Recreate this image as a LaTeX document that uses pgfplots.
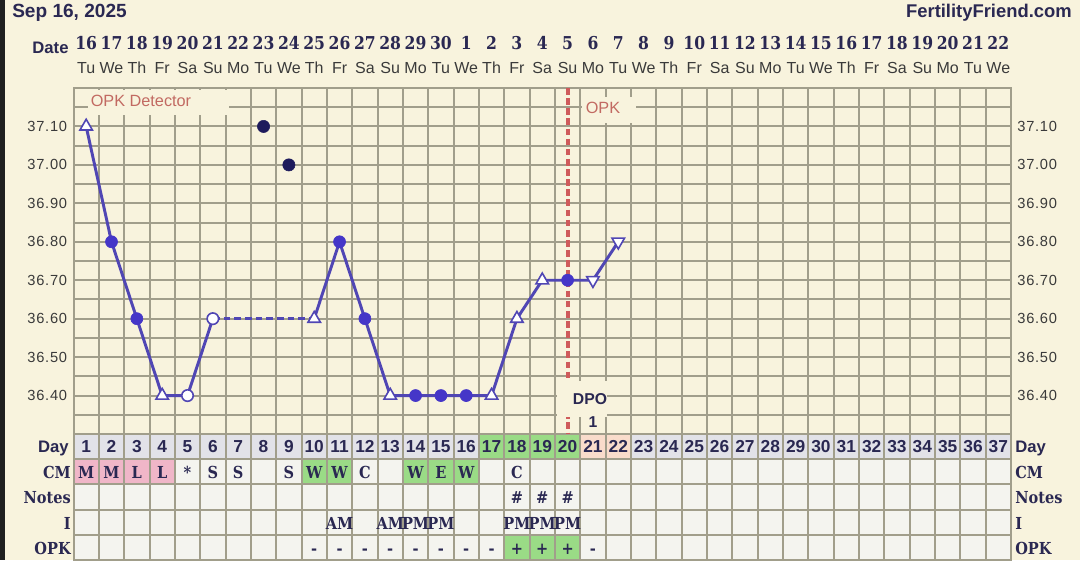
\documentclass[border=0pt]{standalone}
\usepackage{pgfplots}
\pgfplotsset{compat=1.18}
\usepackage{fontspec}
\setmainfont{Liberation Sans}
\newfontfamily\slab[FakeStretch=0.88]{DejaVu Serif}
\newfontfamily\tickf[LetterSpace=5]{Liberation Sans}
\definecolor{bg}{HTML}{F8F3DD}
\definecolor{gridc}{HTML}{A19E8B}
\definecolor{tickc}{HTML}{3A3A3A}
\definecolor{navy}{HTML}{2A2852}
\definecolor{linec}{HTML}{5046B4}
\definecolor{markc}{HTML}{4536C8}
\definecolor{discard}{HTML}{1E1B5C}
\definecolor{redc}{HTML}{CF5B5B}
\definecolor{labred}{HTML}{C26A62}
\definecolor{cellbg}{HTML}{F4F4EF}
\definecolor{dayg}{HTML}{E2E2E8}
\definecolor{pinkc}{HTML}{F0B6C8}
\definecolor{greenc}{HTML}{9ADB86}
\definecolor{peach}{HTML}{F9DCCB}
\newcommand\fs[1]{\fontsize{#1}{#1}\selectfont}
\newcommand\cell[5]{\addplot[fill=#1,draw=none] coordinates {(#2,#3)(#4,#3)(#4,#5)(#2,#5)} -- cycle;}

\begin{document}
\begin{tikzpicture}
\begin{scope}[x=0.75pt,y=-0.75pt]
\useasboundingbox (0,0) rectangle (1080,560);
\fill[bg] (0,0) rectangle (1080,560);
\fill[black!88] (0,0) rectangle (5,560);
\end{scope}

% ---- table ----
\begin{axis}[
  scale only axis, width=703.125pt, height=94.5pt,
  at={(55.125pt,-420pt)}, anchor=south west,
  xmin=0.5, xmax=37.5, ymin=-5, ymax=0,
  xtick={1.5,2.5,...,36.5}, ytick={-4,-3,-2,-1},
  xticklabels={}, yticklabels={},
  grid=major, major grid style={draw=gridc, line width=1.5pt},
  axis line style={draw=gridc, line width=1.5pt},
  major tick length=0pt, axis on top,
  axis background/.style={fill=cellbg},
]
\cell{dayg}{0.5}{-1}{37.5}{0}
\cell{greenc}{16.5}{-1}{20.5}{0}
\cell{peach}{20.5}{-1}{22.5}{0}
\cell{pinkc}{0.5}{-2}{4.5}{-1}
\cell{greenc}{9.5}{-2}{11.5}{-1}
\cell{greenc}{13.5}{-2}{16.5}{-1}
\cell{greenc}{17.5}{-5}{20.5}{-4}
\end{axis}

% ---- temperatures ----
\begin{axis}[
  scale only axis, width=703.125pt, height=259.5pt,
  at={(55.125pt,-325.5pt)}, anchor=south west,
  xmin=0.5, xmax=37.5, ymin=36.3, ymax=37.2,
  xtick={1.5,2.5,...,36.5}, xticklabels={},
  ytick={36.4,36.5,36.6,36.7,36.8,36.9,37.0,37.1},
  yticklabels={36.40,36.50,36.60,36.70,36.80,36.90,37.00,37.10},
  minor ytick={36.35,36.45,36.55,36.65,36.75,36.85,36.95,37.05,37.15},
  grid=both,
  major grid style={draw=gridc,line width=1.5pt},
  minor grid style={draw=gridc,line width=1.5pt},
  axis line style={draw=gridc,line width=1.5pt},
  major tick length=0pt, minor tick length=0pt,
  yticklabel style={font=\tickf\fs{11}, text=tickc, inner sep=0pt, xshift=-4.6pt},
]
\addplot[linec, line width=2.2pt] coordinates {(1,37.1)(2,36.8)(3,36.6)(4,36.4)(5,36.4)(6,36.6)};
\addplot[linec, line width=2.2pt, dash pattern=on 5pt off 3pt] coordinates {(6,36.6)(10,36.6)};
\addplot[linec, line width=2.2pt] coordinates {(10,36.6)(11,36.8)(12,36.6)(13,36.4)(14,36.4)(15,36.4)(16,36.4)(17,36.4)(18,36.6)(19,36.7)(20,36.7)(21,36.7)(22,36.8)};
% filled circles
\addplot[only marks, mark=*, mark size=4.5pt, mark options={fill=markc, draw=markc, line width=0.5pt}]
  coordinates {(2,36.8)(3,36.6)(11,36.8)(12,36.6)(14,36.4)(15,36.4)(16,36.4)(20,36.7)};
% open circles
\addplot[only marks, mark=*, mark size=4.3pt, mark options={fill=white, draw=linec, line width=1.2pt}]
  coordinates {(5,36.4)(6,36.6)};
% open up triangles
\addplot[only marks, mark=triangle*, mark size=5.4pt, mark options={fill=white, draw=linec, line width=1.2pt}]
  coordinates {(1,37.1)(4,36.4)(10,36.6)(13,36.4)(17,36.4)(18,36.6)(19,36.7)};
% open down triangles
\addplot[only marks, mark=triangle*, mark size=5.4pt, mark options={fill=white, draw=linec, line width=1.2pt, rotate=180}]
  coordinates {(21,36.7)(22,36.8)};
% discarded temps
\addplot[only marks, mark=*, mark size=4.6pt, mark options={fill=discard, draw=discard}]
  coordinates {(8,37.1)(9,37.0)};
% ovulation line
\addplot[redc, line width=3pt, dash pattern=on 5pt off 2.6pt] coordinates {(20,37.2)(20,36.3)};
\end{axis}

% right tick labels
\begin{axis}[
  scale only axis, width=703.125pt, height=259.5pt,
  at={(55.125pt,-325.5pt)}, anchor=south west,
  xmin=0.5, xmax=37.5, ymin=36.3, ymax=37.2,
  xtick=\empty,
  ytick={36.4,36.5,36.6,36.7,36.8,36.9,37.0,37.1},
  yticklabels={36.40,36.50,36.60,36.70,36.80,36.90,37.00,37.10},
  yticklabel pos=right, axis line style={draw=none},
  major tick length=0pt,
  yticklabel style={font=\tickf\fs{11}, text=tickc, inner sep=0pt, xshift=4.6pt},
]
\end{axis}

\begin{scope}[x=0.75pt,y=-0.75pt]
% label boxes
\fill[bg] (88,89.6) rectangle (229,115);
\node[anchor=base, font=\fs{12.2}, text=labred, inner sep=0] at (141,106.5) {OPK Detector};
\fill[bg] (581.5,97) rectangle (636,123);
\node[anchor=base, font=\fs{12.2}, text=labred, inner sep=0] at (603,113) {OPK};
\fill[bg] (556.5,381) rectangle (607,416.5);
\node[anchor=base, font=\bfseries\fs{11.8}, text=navy, inner sep=0] at (590,404) {DPO};
\node[anchor=base, font=\bfseries\fs{11.8}, text=navy, inner sep=0] at (593,427.3) {1};

% header
\node[anchor=base west, font=\bfseries\fs{14.3}, text=navy, inner sep=0] at (12,17.5) {Sep 16, 2025};
\node[anchor=base east, font=\bfseries\fs{13.8}, text=navy, inner sep=0] at (1072,17.5) {FertilityFriend.com};
\node[anchor=base, font=\bfseries\fs{12.5}, text=navy, inner sep=0] at (50.5,53.3) {Date};
\foreach \n [count=\i] in {16,17,18,19,20,21,22,23,24,25,26,27,28,29,30,1,2,3,4,5,6,7,8,9,10,11,12,13,14,15,16,17,18,19,20,21,22}
  \node[anchor=base, font=\slab\bfseries\fs{13.3}, text=navy, inner sep=0] at ({73.5+(\i-0.5)*25.3378},49.3) {\n};
\foreach \w [count=\i] in {Tu,We,Th,Fr,Sa,Su,Mo,Tu,We,Th,Fr,Sa,Su,Mo,Tu,We,Th,Fr,Sa,Su,Mo,Tu,We,Th,Fr,Sa,Su,Mo,Tu,We,Th,Fr,Sa,Su,Mo,Tu,We}
  \node[anchor=base, font=\fs{12}, text=tickc, inner sep=0] at ({73.5+(\i-0.5)*25.3378},73.3) {\w};

% row labels
\node[anchor=base east, font=\bfseries\fs{12.5}, text=navy, inner sep=0] at (69,452.5) {Day};
\node[anchor=base east, font=\slab\bfseries\fs{12.4}, text=navy, inner sep=0] at (71,478) {CM};
\node[anchor=base east, font=\slab\bfseries\fs{12.4}, text=navy, inner sep=0] at (71,503.3) {Notes};
\node[anchor=base east, font=\slab\bfseries\fs{12.4}, text=navy, inner sep=0] at (71,529.5) {I};
\node[anchor=base east, font=\slab\bfseries\fs{12.4}, text=navy, inner sep=0] at (71,554.8) {OPK};
\node[anchor=base west, font=\bfseries\fs{12.5}, text=navy, inner sep=0] at (1015,452.5) {Day};
\node[anchor=base west, font=\slab\bfseries\fs{12.4}, text=navy, inner sep=0] at (1015,478) {CM};
\node[anchor=base west, font=\slab\bfseries\fs{12.4}, text=navy, inner sep=0] at (1015,503.3) {Notes};
\node[anchor=base west, font=\slab\bfseries\fs{12.4}, text=navy, inner sep=0] at (1015,529.5) {I};
\node[anchor=base west, font=\slab\bfseries\fs{12.4}, text=navy, inner sep=0] at (1015,554.8) {OPK};

% day numbers
\foreach \i in {1,...,37}
  \node[anchor=base, font=\bfseries\fs{13}, text=navy, inner sep=0] at ({73.5+(\i-0.5)*25.3378},452.8) {\i};
% CM
\foreach \d/\t in {1/M,2/M,3/L,4/L,5/*,6/S,7/S,9/S,10/W,11/W,12/C,14/W,15/E,16/W,18/C}
  \node[anchor=base, font=\slab\bfseries\fs{12.4}, text=navy, inner sep=0] at ({73.5+(\d-0.5)*25.3378},478) {\t};
% Notes
\foreach \d in {18,19,20}
  \node[anchor=base, font=\slab\bfseries\fs{12.4}, text=navy, inner sep=0] at ({73.5+(\d-0.5)*25.3378},503.3) {\#};
% I
\foreach \d/\t in {11/AM,13/AM,14/PM,15/PM,18/PM,19/PM,20/PM}
  \node[anchor=base, font=\slab\bfseries\fs{12.4}, text=navy, inner sep=0] at ({73.5+(\d-0.5)*25.3378},529.5) {\t};
% OPK
\foreach \d in {10,...,17,21}
  \node[anchor=base, font=\slab\bfseries\fs{12.4}, text=navy, inner sep=0] at ({73.5+(\d-0.5)*25.3378},554.8) {-};
\foreach \d in {18,19,20}
  \node[anchor=base, font=\slab\bfseries\fs{12.4}, text=navy, inner sep=0] at ({73.5+(\d-0.5)*25.3378},554.8) {+};
\end{scope}
\end{tikzpicture}
\end{document}
